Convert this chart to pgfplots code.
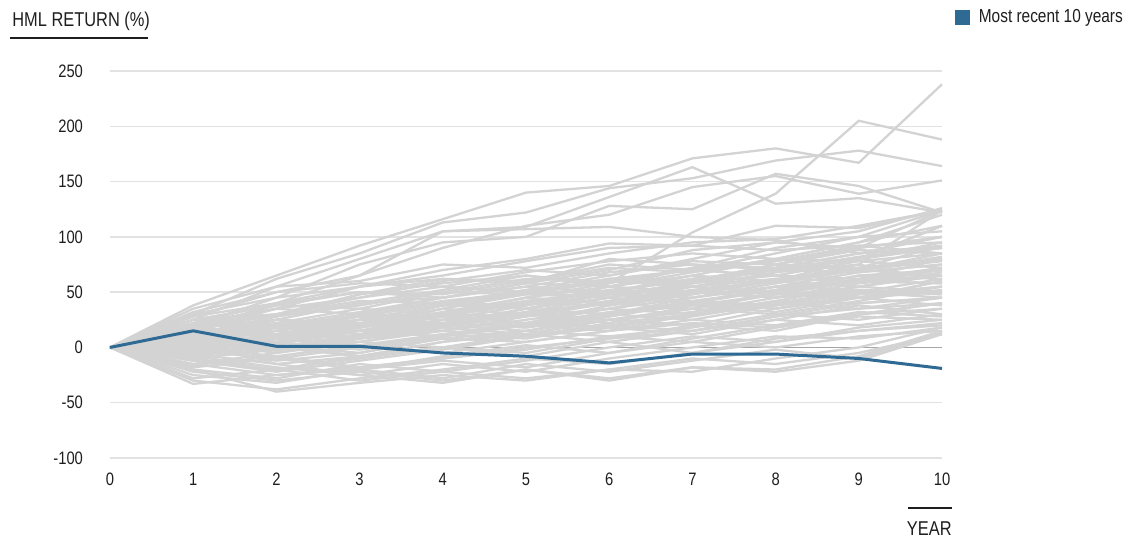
\documentclass[border=0pt]{standalone}
\usepackage{pgfplots}
\pgfplotsset{compat=1.18}
\usepackage{fontspec}
\setmainfont{Liberation Sans}[FakeStretch=0.82]
\definecolor{gline}{RGB}{211,211,211}
\definecolor{gridc}{RGB}{226,226,226}
\definecolor{blueline}{RGB}{46,106,148}
\definecolor{txt}{RGB}{30,30,30}
\begin{document}
\begin{tikzpicture}
\useasboundingbox (-55pt,-41pt) rectangle (512.5pt,229pt);
\begin{axis}[
  scale only axis, width=416pt, height=193.5pt,
  at={(0pt,0pt)}, anchor=south west,
  xmin=0, xmax=10, ymin=-100, ymax=250,
  axis line style={draw=none}, major tick style={draw=none},
  xtick={0,1,2,3,4,5,6,7,8,9,10},
  xticklabels={0,1,2,3,4,5,6,7,8,9,10},
  ytick={-100,-50,0,50,100,150,200,250},
  yticklabels={-100,-50,0,50,100,150,200,250},
  ymajorgrids, grid style={gridc, line width=0.75pt},
  tick label style={font=\fontsize{9}{10}\selectfont, text=txt},
  xticklabel style={yshift=-4pt},
  yticklabel style={xshift=-10pt},
  legend style={at={(1.015,1.17)}, anchor=north west, draw=none, fill=none,
    font=\fontsize{9.4}{11}\selectfont, text=txt, inner sep=0pt},
  legend cell align=left,
  legend image code/.code={\fill[blueline] (0pt,-3pt) rectangle (6pt,3pt); \path (8.5pt,0pt);},
  gl/.style={gline, line width=1.15pt, forget plot},
  clip=false,
]
\addplot[gray!70, line width=0.75pt, forget plot] coordinates {(0,0)(10,0)};
% prominent upper paths
\addplot[gl] coordinates {(0,0)(1,38)(2,65)(3,92)(4,116)(5,140)(6,146)(7,171)(8,180)(9,167)(10,238)};
\addplot[gl] coordinates {(0,0)(1,30)(2,62)(3,85)(4,113)(5,122)(6,144)(7,153)(8,169)(9,178)(10,164)};
\addplot[gl] coordinates {(0,0)(1,25)(2,55)(3,80)(4,105)(5,109)(6,136)(7,163)(8,130)(9,135)(10,122)};
\addplot[gl] coordinates {(0,0)(1,20)(2,45)(3,75)(4,95)(5,100)(6,128)(7,125)(8,157)(9,146)(10,122)};
\addplot[gl] coordinates {(0,0)(1,28)(2,50)(3,65)(4,90)(5,110)(6,120)(7,145)(8,155)(9,139)(10,151)};
\addplot[gl] coordinates {(0,0)(1,5)(2,10)(3,20)(4,30)(5,45)(6,58)(7,104)(8,139)(9,205)(10,188)};
\addplot[gl] coordinates {(0,0)(1,22)(2,40)(3,65)(4,105)(5,107)(6,109)(7,100)(8,97)(9,85)(10,92)};
\addplot[gl] coordinates {(0,0)(1,15)(2,35)(3,55)(4,70)(5,80)(6,94)(7,92)(8,110)(9,108)(10,124)};
% main band
\addplot[gl] coordinates {(0,0)(1,12)(2,18)(3,30)(4,28)(5,40)(6,52)(7,48)(8,60)(9,72)(10,80)};
\addplot[gl] coordinates {(0,0)(1,-5)(2,8)(3,15)(4,22)(5,18)(6,30)(7,42)(8,38)(9,50)(10,62)};
\addplot[gl] coordinates {(0,0)(1,8)(2,-3)(3,10)(4,20)(5,35)(6,30)(7,45)(8,55)(9,60)(10,70)};
\addplot[gl] coordinates {(0,0)(1,-12)(2,-20)(3,-8)(4,5)(5,12)(6,25)(7,20)(8,35)(9,48)(10,55)};
\addplot[gl] coordinates {(0,0)(1,18)(2,25)(3,20)(4,35)(5,50)(6,45)(7,60)(8,75)(9,70)(10,85)};
\addplot[gl] coordinates {(0,0)(1,5)(2,15)(3,28)(4,40)(5,38)(6,55)(7,65)(8,60)(9,80)(10,90)};
\addplot[gl] coordinates {(0,0)(1,-8)(2,2)(3,-5)(4,10)(5,20)(6,15)(7,30)(8,42)(9,55)(10,50)};
\addplot[gl] coordinates {(0,0)(1,15)(2,10)(3,22)(4,18)(5,30)(6,40)(7,35)(8,50)(9,45)(10,60)};
\addplot[gl] coordinates {(0,0)(1,3)(2,12)(3,8)(4,15)(5,25)(6,35)(7,50)(8,45)(9,58)(10,65)};
\addplot[gl] coordinates {(0,0)(1,-15)(2,-25)(3,-18)(4,-10)(5,0)(6,8)(7,20)(8,15)(9,30)(10,40)};
\addplot[gl] coordinates {(0,0)(1,10)(2,22)(3,35)(4,30)(5,42)(6,50)(7,62)(8,70)(9,68)(10,75)};
\addplot[gl] coordinates {(0,0)(1,-3)(2,-10)(3,0)(4,12)(5,8)(6,20)(7,28)(8,40)(9,35)(10,45)};
\addplot[gl] coordinates {(0,0)(1,20)(2,30)(3,45)(4,55)(5,50)(6,62)(7,70)(8,78)(9,90)(10,100)};
\addplot[gl] coordinates {(0,0)(1,6)(2,0)(3,12)(4,25)(5,30)(6,22)(7,38)(8,48)(9,60)(10,58)};
\addplot[gl] coordinates {(0,0)(1,-20)(2,-28)(3,-15)(4,-22)(5,-12)(6,0)(7,10)(8,5)(9,18)(10,25)};
\addplot[gl] coordinates {(0,0)(1,25)(2,38)(3,50)(4,48)(5,60)(6,72)(7,68)(8,80)(9,95)(10,110)};
\addplot[gl] coordinates {(0,0)(1,0)(2,5)(3,-2)(4,8)(5,15)(6,10)(7,18)(8,30)(9,25)(10,35)};
\addplot[gl] coordinates {(0,0)(1,12)(2,28)(3,40)(4,52)(5,65)(6,58)(7,72)(8,90)(9,100)(10,105)};
\addplot[gl] coordinates {(0,0)(1,-10)(2,-2)(3,5)(4,0)(5,10)(6,18)(7,12)(8,25)(9,38)(10,30)};
\addplot[gl] coordinates {(0,0)(1,8)(2,20)(3,15)(4,30)(5,28)(6,40)(7,55)(8,50)(9,62)(10,72)};
\addplot[gl] coordinates {(0,0)(1,-25)(2,-32)(3,-20)(4,-12)(5,-18)(6,-5)(7,5)(8,0)(9,10)(10,15)};
\addplot[gl] coordinates {(0,0)(1,15)(2,5)(3,18)(4,30)(5,45)(6,55)(7,50)(8,68)(9,80)(10,95)};
\addplot[gl] coordinates {(0,0)(1,2)(2,10)(3,22)(4,15)(5,28)(6,35)(7,30)(8,40)(9,52)(10,48)};
\addplot[gl] coordinates {(0,0)(1,-6)(2,-15)(3,-8)(4,0)(5,-5)(6,8)(7,15)(8,25)(9,20)(10,30)};
\addplot[gl] coordinates {(0,0)(1,22)(2,35)(3,30)(4,45)(5,55)(6,68)(7,75)(8,72)(9,85)(10,90)};
\addplot[gl] coordinates {(0,0)(1,10)(2,0)(3,-8)(4,5)(5,15)(6,25)(7,35)(8,30)(9,42)(10,55)};
\addplot[gl] coordinates {(0,0)(1,-15)(2,-5)(3,8)(4,20)(5,15)(6,28)(7,40)(8,52)(9,60)(10,65)};
\addplot[gl] coordinates {(0,0)(1,5)(2,18)(3,25)(4,38)(5,35)(6,45)(7,58)(8,65)(9,62)(10,80)};
\addplot[gl] coordinates {(0,0)(1,-2)(2,8)(3,2)(4,12)(5,22)(6,30)(7,25)(8,38)(9,45)(10,60)};
\addplot[gl] coordinates {(0,0)(1,18)(2,12)(3,25)(4,22)(5,35)(6,48)(7,55)(8,50)(9,65)(10,70)};
\addplot[gl] coordinates {(0,0)(1,-30)(2,-38)(3,-28)(4,-20)(5,-10)(6,-15)(7,-5)(8,5)(9,15)(10,20)};
\addplot[gl] coordinates {(0,0)(1,10)(2,25)(3,40)(4,45)(5,55)(6,50)(7,65)(8,80)(9,78)(10,85)};
\addplot[gl] coordinates {(0,0)(1,0)(2,-12)(3,-5)(4,8)(5,5)(6,15)(7,22)(8,18)(9,30)(10,40)};
\addplot[gl] coordinates {(0,0)(1,14)(2,22)(3,18)(4,28)(5,40)(6,38)(7,50)(8,62)(9,70)(10,65)};
\addplot[gl] coordinates {(0,0)(1,-8)(2,-18)(3,-25)(4,-15)(5,-22)(6,-10)(7,0)(8,10)(9,8)(10,18)};
\addplot[gl] coordinates {(0,0)(1,6)(2,15)(3,30)(4,25)(5,38)(6,52)(7,60)(8,58)(9,72)(10,80)};
\addplot[gl] coordinates {(0,0)(1,20)(2,28)(3,38)(4,50)(5,48)(6,60)(7,55)(8,68)(9,75)(10,124)};
\addplot[gl] coordinates {(0,0)(1,2)(2,12)(3,20)(4,32)(5,45)(6,40)(7,52)(8,60)(9,75)(10,60)};
\addplot[gl] coordinates {(0,0)(1,-12)(2,-22)(3,-12)(4,-2)(5,10)(6,20)(7,15)(8,28)(9,40)(10,45)};
\addplot[gl] coordinates {(0,0)(1,8)(2,3)(3,15)(4,28)(5,22)(6,35)(7,45)(8,55)(9,52)(10,50)};
\addplot[gl] coordinates {(0,0)(1,15)(2,30)(3,42)(4,40)(5,52)(6,65)(7,78)(8,75)(9,90)(10,124)};
\addplot[gl] coordinates {(0,0)(1,-4)(2,5)(3,15)(4,10)(5,20)(6,32)(7,40)(8,35)(9,48)(10,55)};
\addplot[gl] coordinates {(0,0)(1,25)(2,20)(3,32)(4,45)(5,58)(6,55)(7,68)(8,80)(9,95)(10,120)};
\addplot[gl] coordinates {(0,0)(1,0)(2,10)(3,5)(4,18)(5,30)(6,25)(7,35)(8,48)(9,45)(10,52)};
\addplot[gl] coordinates {(0,0)(1,-18)(2,-10)(3,-20)(4,-8)(5,2)(6,-5)(7,8)(8,20)(9,30)(10,35)};
\addplot[gl] coordinates {(0,0)(1,12)(2,20)(3,28)(4,22)(5,32)(6,45)(7,40)(8,55)(9,68)(10,75)};
\addplot[gl] coordinates {(0,0)(1,5)(2,-5)(3,5)(4,15)(5,10)(6,22)(7,30)(8,42)(9,40)(10,45)};
\addplot[gl] coordinates {(0,0)(1,28)(2,40)(3,55)(4,62)(5,58)(6,70)(7,88)(8,95)(9,105)(10,126)};
\addplot[gl] coordinates {(0,0)(1,-10)(2,0)(3,10)(4,25)(5,20)(6,30)(7,38)(8,32)(9,45)(10,50)};
\addplot[gl] coordinates {(0,0)(1,10)(2,18)(3,12)(4,20)(5,32)(6,40)(7,50)(8,45)(9,55)(10,65)};
\addplot[gl] coordinates {(0,0)(1,-22)(2,-30)(3,-22)(4,-30)(5,-20)(6,-28)(7,-18)(8,-20)(9,-8)(10,15)};
\addplot[gl] coordinates {(0,0)(1,3)(2,8)(3,18)(4,30)(5,42)(6,50)(7,45)(8,58)(9,70)(10,78)};
\addplot[gl] coordinates {(0,0)(1,16)(2,10)(3,20)(4,35)(5,30)(6,42)(7,55)(8,62)(9,60)(10,70)};
\addplot[gl] coordinates {(0,0)(1,-6)(2,3)(3,-8)(4,0)(5,12)(6,5)(7,15)(8,28)(9,35)(10,40)};
\addplot[gl] coordinates {(0,0)(1,8)(2,22)(3,15)(4,25)(5,38)(6,48)(7,42)(8,52)(9,65)(10,62)};
\addplot[gl] coordinates {(0,0)(1,-16)(2,-8)(3,2)(4,-5)(5,5)(6,15)(7,25)(8,20)(9,32)(10,28)};
\addplot[gl] coordinates {(0,0)(1,22)(2,15)(3,28)(4,40)(5,35)(6,50)(7,62)(8,70)(9,80)(10,110)};
\addplot[gl] coordinates {(0,0)(1,0)(2,-8)(3,-18)(4,-10)(5,-2)(6,10)(7,5)(8,18)(9,28)(10,25)};
\addplot[gl] coordinates {(0,0)(1,12)(2,25)(3,22)(4,35)(5,48)(6,45)(7,60)(8,72)(9,85)(10,100)};
\addplot[gl] coordinates {(0,0)(1,-2)(2,12)(3,25)(4,20)(5,30)(6,42)(7,52)(8,48)(9,60)(10,58)};
\addplot[gl] coordinates {(0,0)(1,6)(2,-2)(3,8)(4,18)(5,12)(6,25)(7,32)(8,45)(9,52)(10,48)};
\addplot[gl] coordinates {(0,0)(1,-28)(2,-20)(3,-30)(4,-22)(5,-28)(6,-20)(7,-10)(8,-15)(9,-5)(10,12)};
\addplot[gl] coordinates {(0,0)(1,18)(2,8)(3,0)(4,10)(5,22)(6,18)(7,30)(8,38)(9,50)(10,45)};
\addplot[gl] coordinates {(0,0)(1,-10)(2,-20)(3,-10)(4,0)(5,-8)(6,5)(7,-5)(8,8)(9,15)(10,22)};
\addplot[gl] coordinates {(0,0)(1,10)(2,15)(3,25)(4,38)(5,50)(6,60)(7,58)(8,70)(9,82)(10,90)};
\addplot[gl] coordinates {(0,0)(1,4)(2,15)(3,10)(4,22)(5,18)(6,28)(7,40)(8,35)(9,45)(10,38)};
\addplot[gl] coordinates {(0,0)(1,-33)(2,-25)(3,-20)(4,-28)(5,-15)(6,-22)(7,-12)(8,-2)(9,-10)(10,14)};
\addplot[gl] coordinates {(0,0)(1,-20)(2,-40)(3,-32)(4,-25)(5,-30)(6,-20)(7,-22)(8,-10)(9,0)(10,18)};
\addplot[gl] coordinates {(0,0)(1,8)(2,-15)(3,-25)(4,-32)(5,-20)(6,-30)(7,-18)(8,-22)(9,-12)(10,12)};
\addplot[gl] coordinates {(0,0)(1,5)(2,25)(3,18)(4,30)(5,22)(6,38)(7,48)(8,60)(9,55)(10,68)};
\addplot[gl] coordinates {(0,0)(1,20)(2,35)(3,45)(4,60)(5,70)(6,65)(7,80)(8,95)(9,90)(10,100)};
\addplot[gl] coordinates {(0,0)(1,30)(2,45)(3,55)(4,65)(5,78)(6,90)(7,92)(8,88)(9,92)(10,85)};
\addplot[gl] coordinates {(0,0)(1,10)(2,28)(3,48)(4,62)(5,60)(6,75)(7,70)(8,85)(9,100)(10,124)};
\addplot[gl] coordinates {(0,0)(1,35)(2,55)(3,60)(4,75)(5,72)(6,85)(7,95)(8,98)(9,110)(10,124)};
\addplot[gl] coordinates {(0,0)(1,15)(2,40)(3,50)(4,45)(5,58)(6,80)(7,75)(8,70)(9,80)(10,110)};
\addplot[gl] coordinates {(0,0)(1,25)(2,30)(3,48)(4,58)(5,65)(6,55)(7,72)(8,78)(9,92)(10,95)};
\addplot[gl] coordinates {(0,0)(1,32)(2,50)(3,58)(4,55)(5,68)(6,78)(7,85)(8,80)(9,70)(10,82)};
\addplot[gl] coordinates {(0,0)(1,-5)(2,10)(3,30)(4,42)(5,50)(6,62)(7,60)(8,75)(9,88)(10,85)};
\addplot[gl] coordinates {(0,0)(1,18)(2,38)(3,35)(4,50)(5,62)(6,60)(7,70)(8,65)(9,78)(10,72)};
\addplot[gl] coordinates {(0,0)(1,12)(2,5)(3,20)(4,38)(5,52)(6,48)(7,58)(8,75)(9,72)(10,92)};
% most recent 10 years
\addplot[blueline, line width=1.5pt] coordinates {(0,0)(1,15)(2,1)(3,1)(4,-5)(5,-8)(6,-14)(7,-6)(8,-6)(9,-10)(10,-19)};
\addlegendentry{Most recent 10 years}
\end{axis}
\node[anchor=west, font=\fontsize{10}{12}\selectfont, text=txt, inner sep=0pt] at (-49pt,218.5pt) {HML RETURN (\%)};
\draw[txt, line width=0.8pt] (-50pt,210pt) -- (19pt,210pt);
\node[anchor=east, font=\fontsize{10}{12}\selectfont, text=txt, inner sep=0pt] at (421pt,-35.5pt) {YEAR};
\draw[txt, line width=0.8pt] (399pt,-25pt) -- (421pt,-25pt);
\end{tikzpicture}
\end{document}
